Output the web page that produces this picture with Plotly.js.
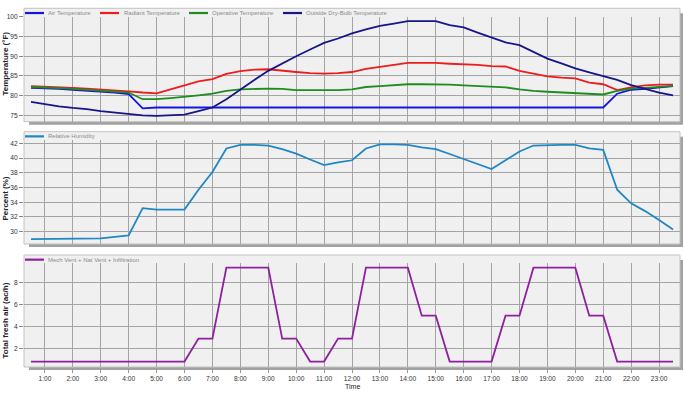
<!DOCTYPE html>
<html>
<head>
<meta charset="utf-8">
<script src="https://cdn.plot.ly/plotly-3.0.1.min.js"></script>
<style>html,body{margin:0;padding:0;background:#fff}#chart{width:684px;height:396px}</style>
</head>
<body>
<div id="chart"></div>
<script>
// ---- data (time in hours) ----
const hours = [0.5,1,1.5,2,2.5,3,3.5,4,4.5,5,5.5,6,6.5,7,7.5,8,8.5,9,9.5,10,10.5,11,11.5,12,
  12.5,13,13.5,14,14.5,15,15.5,16,16.5,17,17.5,18,18.5,19,19.5,20,20.5,21,21.5,22,22.5,23,23.5];
const hourTicks = [1,2,3,4,5,6,7,8,9,10,11,12,13,14,15,16,17,18,19,20,21,22,23];
const hourLabels = ['1:00','2:00','3:00','4:00','5:00','6:00','7:00','8:00','9:00','10:00','11:00','12:00',
  '13:00','14:00','15:00','16:00','17:00','18:00','19:00','20:00','21:00','22:00','23:00'];

const airTemp = [82.0,81.9,81.7,81.5,81.3,81.1,80.8,80.4,76.8,77.0,77.0,77.0,77.0,77.0,77.0,77.0,77.0,77.0,77.0,77.0,
  77.0,77.0,77.0,77.0,77.0,77.0,77.0,77.0,77.0,77.0,77.0,77.0,77.0,77.0,77.0,77.0,77.0,77.0,77.0,77.0,
  77.0,77.0,80.5,81.5,81.7,82.1,82.4];
const radiantTemp = [82.4,82.3,82.1,82.0,81.8,81.6,81.4,81.1,80.8,80.6,81.6,82.6,83.6,84.2,85.5,86.2,86.6,86.7,86.3,86.0,
  85.7,85.6,85.7,86.0,86.8,87.3,87.9,88.3,88.3,88.3,88.1,88.0,87.8,87.5,87.4,86.3,85.6,84.9,84.6,84.4,
  83.3,82.9,81.4,82.1,82.6,82.8,82.8];
const operativeTemp = [82.2,82.1,81.9,81.7,81.5,81.3,81.1,80.8,79.1,79.1,79.4,79.7,80.1,80.5,81.2,81.6,81.7,81.8,81.7,81.4,
  81.4,81.4,81.4,81.6,82.2,82.4,82.6,82.9,82.9,82.9,82.8,82.6,82.4,82.2,82.1,81.6,81.2,81.0,80.8,80.6,
  80.4,80.3,81.2,81.8,82.0,82.3,82.5];
const outsideTemp = [78.4,77.8,77.3,76.9,76.6,76.1,75.7,75.3,75.0,74.9,75.0,75.2,76.1,77.0,79.1,81.6,84.0,86.3,88.2,90.0,
  91.7,93.4,94.5,95.8,96.8,97.7,98.3,98.9,98.9,98.9,97.9,97.3,96.0,94.8,93.5,92.8,91.0,89.4,88.2,86.9,
  85.9,85.0,84.0,82.7,81.7,80.8,80.1];
const relHumidity = [29.0,29.0,29.0,29.0,29.0,29.1,29.3,29.5,33.2,33.0,33.0,33.0,35.7,38.1,41.3,41.8,41.8,41.7,41.2,40.6,
  39.8,39.05,39.4,39.7,41.3,41.85,41.85,41.8,41.45,41.2,40.55,39.9,39.2,38.5,39.7,40.9,41.7,41.8,41.8,41.8,
  41.3,41.1,35.7,33.85,32.8,31.6,30.3];
const freshAir = [0.8,0.8,0.8,0.8,0.8,0.8,0.8,0.8,0.8,0.8,0.8,0.8,2.9,2.9,9.4,9.4,9.4,9.4,2.9,2.9,
  0.8,0.8,2.9,2.9,9.4,9.4,9.4,9.4,5.0,5.0,0.8,0.8,0.8,0.8,5.0,5.0,9.4,9.4,9.4,9.4,
  5.0,5.0,0.8,0.8,0.8,0.8,0.8];

const tempTicks = [75,80,85,90,95,100];
const rhTicks = [30,32,34,36,38,40,42];
const airTicks = [2,4,6,8];

const tempNames = ['Air Temperature','Radiant Temperature','Operative Temperature','Outside Dry-Bulb Temperature'];
const rhName = 'Relative Humidity';
const airName = 'Mech Vent + Nat Vent + Infiltration';
const yTitles = ['Temperature (°F)','Percent (%)','Total fresh air (ac/h)'];

// ---- styles ----
const FONT = 'Liberation Sans, Arial, sans-serif';
const C = {air:'#1414e6', rad:'#ee1c1c', op:'#1e8c1e', out:'#16168a', rh:'#1f87c4', fa:'#8e1f9e'};
const LW = 1.8;

const traces = [
  {x:hours, y:airTemp, name:tempNames[0], xaxis:'x', yaxis:'y', mode:'lines', line:{color:C.air, width:LW}},
  {x:hours, y:radiantTemp, name:tempNames[1], xaxis:'x', yaxis:'y', mode:'lines', line:{color:C.rad, width:LW}},
  {x:hours, y:operativeTemp, name:tempNames[2], xaxis:'x', yaxis:'y', mode:'lines', line:{color:C.op, width:LW}},
  {x:hours, y:outsideTemp, name:tempNames[3], xaxis:'x', yaxis:'y', mode:'lines', line:{color:C.out, width:LW}},
  {x:hours, y:relHumidity, name:rhName, xaxis:'x2', yaxis:'y2', mode:'lines', line:{color:C.rh, width:LW}},
  {x:hours, y:freshAir, name:airName, xaxis:'x3', yaxis:'y3', mode:'lines', line:{color:C.fa, width:LW}}
];

const GRID = '#a4a4a4';
const tickFont = {family:FONT, size:6.6, color:'#333'};
function xAxis(anchor, labels){
  return {anchor:anchor, range:[0.25,23.75], tickvals:hourTicks, ticktext:hourLabels,
    showgrid:true, gridcolor:GRID, gridwidth:1, zeroline:false, showline:false,
    showticklabels:labels, ticks:labels?'outside':'', ticklen:5, tickcolor:'#999', tickfont:tickFont, fixedrange:true};
}
function yAxis(anchor, domain, range, ticks){
  return {anchor:anchor, domain:domain, range:range, tickvals:ticks,
    showgrid:true, gridcolor:GRID, gridwidth:1, zeroline:false, showline:false,
    ticks:'outside', ticklen:4, tickcolor:'#888', tickfont:tickFont, fixedrange:true};
}

// panels: [x ref, y ref, panel height px]
const panels = [['x','y',105],['x2','y2',104],['x3','y3',104]];
const STRIP = 1.08;
const shapes = [];
const annotations = [];
panels.forEach(p => {
  const xr = p[0]+' domain', yr = p[1]+' domain', h = p[2];
  shapes.push({type:'rect', xref:xr, yref:yr, x0:5/656, x1:1+3/656, y0:-3/h, y1:STRIP-5/h,
    fillcolor:'#a2a2a2', line:{width:0}, layer:'below'});
  shapes.push({type:'rect', xref:xr, yref:yr, x0:0, x1:1, y0:0, y1:STRIP,
    fillcolor:'#f0f0f0', line:{color:'#c2c2c2', width:1}, layer:'below'});
});

// legend entries drawn in the strip at the top of each panel
function legendItem(xr, yr, pxLine, pxText, color, text){
  const y = 1.035;
  shapes.push({type:'line', xref:xr+' domain', yref:yr+' domain', x0:(pxLine-24)/656, x1:(pxLine+19-24)/656, y0:y, y1:y,
    line:{color:color, width:2.2}});
  annotations.push({xref:xr+' domain', yref:yr+' domain', x:(pxText-24)/656, y:y, xanchor:'left', yanchor:'middle',
    text:text, showarrow:false, font:{family:FONT, size:6, color:'#8a8a8a'}, borderpad:0});
}
legendItem('x','y',25,47,C.air,tempNames[0]);
legendItem('x','y',100,123,C.rad,tempNames[1]);
legendItem('x','y',189,211,C.op,tempNames[2]);
legendItem('x','y',283,305,C.out,tempNames[3]);
legendItem('x2','y2',25,47,C.rh,rhName);
legendItem('x3','y3',25,47,C.fa,airName);

// axis titles
const titleY = [64, 199, 321];
yTitles.forEach((t,i) => {
  annotations.push({xref:'paper', yref:'paper', x:(4.5-24)/656, y:(367-titleY[i])/367, xanchor:'center', yanchor:'middle',
    text:'<b>'+t+'</b>', textangle:-90, showarrow:false, font:{family:FONT, size:8, color:'#222'}});
});
annotations.push({xref:'paper', yref:'paper', x:0.5, y:(367-386)/367, xanchor:'center', yanchor:'middle',
  text:'Time', showarrow:false, font:{family:FONT, size:7, color:'#222'}});

const layout = {
  width:684, height:396, margin:{l:24, r:4, t:0, b:29},
  paper_bgcolor:'#ffffff', plot_bgcolor:'rgba(0,0,0,0)', showlegend:false,
  xaxis:xAxis('y', false), xaxis2:xAxis('y2', false), xaxis3:xAxis('y3', true),
  yaxis:yAxis('x', [0.6684,0.9545], [73.4,100.03], tempTicks),
  yaxis2:yAxis('x2', [0.3351,0.6185], [28.33,42.45], rhTicks),
  yaxis3:yAxis('x3', [0,0.2826], [0.3,9.8], airTicks),
  shapes:shapes, annotations:annotations
};

Plotly.newPlot('chart', traces, layout, {staticPlot:true, displayModeBar:false});
</script>
</body>
</html>
